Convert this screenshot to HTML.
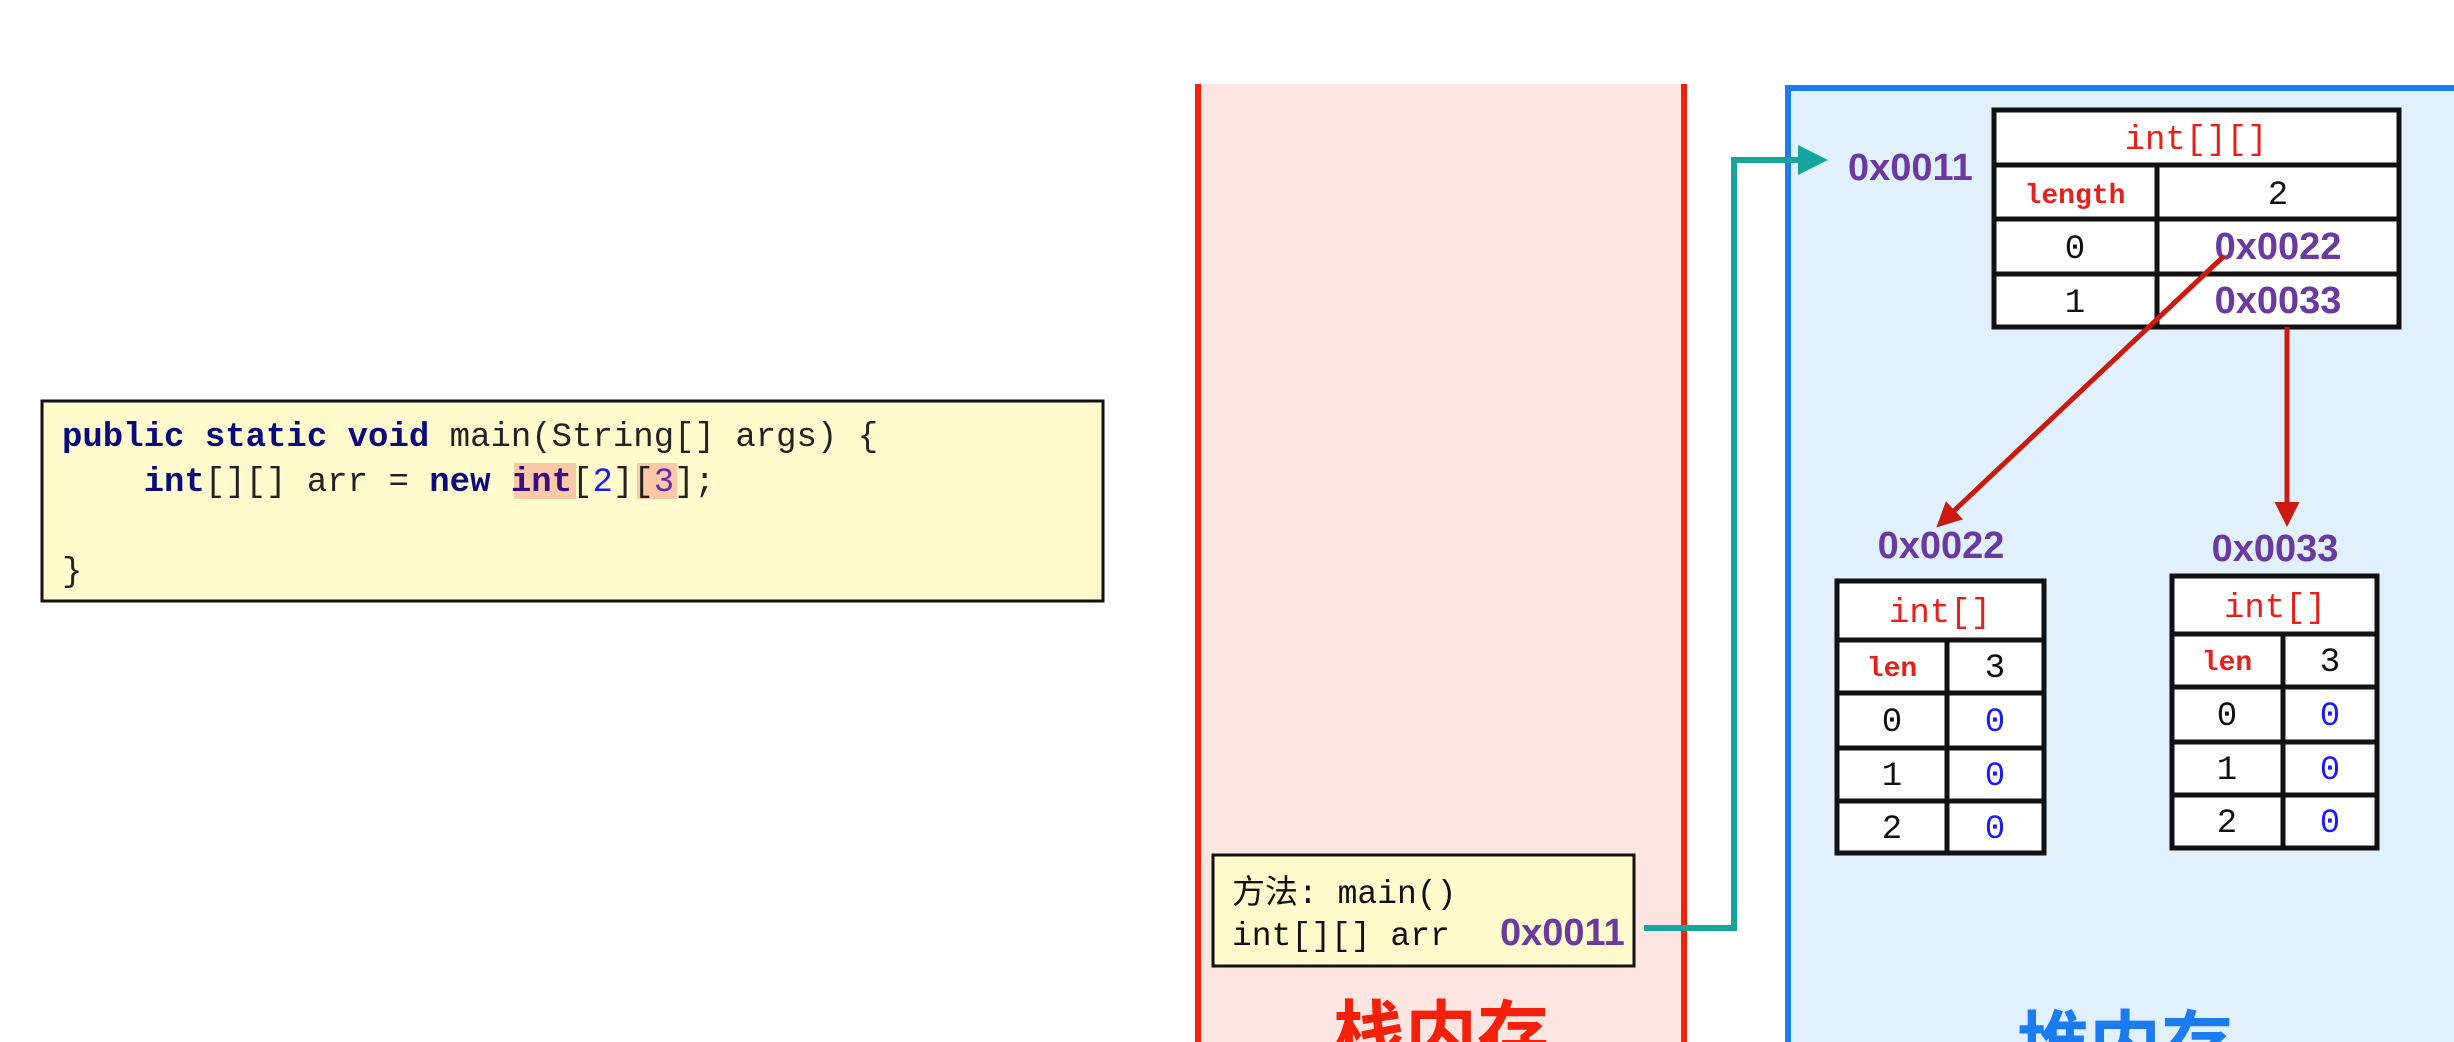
<!DOCTYPE html>
<html><head><meta charset="utf-8"><style>
html,body{margin:0;padding:0;background:#fff;width:2454px;height:1042px;overflow:hidden}
svg text{font-family:"Liberation Mono","Noto Sans CJK SC",monospace}
.b{font-family:"Liberation Sans","Noto Sans CJK SC",sans-serif;font-weight:bold}
</style></head><body>
<svg width="2454" height="1042" xmlns="http://www.w3.org/2000/svg">
<defs>
<marker id="ar" viewBox="0 0 10 10" refX="8" refY="5" markerWidth="5" markerHeight="5" orient="auto"><path d="M0,0L10,5L0,10z" fill="#cc1a10"/></marker>
<marker id="at" viewBox="0 0 10 10" refX="8" refY="5" markerWidth="5" markerHeight="5" orient="auto"><path d="M0,0L10,5L0,10z" fill="#15a59c"/></marker>
</defs>
<!-- code box -->
<rect x="42" y="401" width="1061" height="200" fill="#fffbcc" stroke="#111" stroke-width="3"/>
<rect x="514" y="463" width="62" height="36" fill="#f9c9a8"/>
<rect x="637" y="463" width="40" height="36" fill="#f9c9a8"/>
<text x="62" y="446" font-size="34" fill="#222"><tspan fill="#0a0a80" font-weight="bold">public static void</tspan> main(String[] args) {</text>
<text x="62" y="491" font-size="34" fill="#222" xml:space="preserve">    <tspan fill="#0a0a80" font-weight="bold">int</tspan>[][] arr = <tspan fill="#0a0a80" font-weight="bold">new</tspan> <tspan fill="#3a0a80" font-weight="bold">int</tspan>[<tspan fill="#1a1aff">2</tspan>][<tspan fill="#6a2ab0">3</tspan>];</text>
<text x="62" y="581" font-size="34" fill="#222">}</text>
<!-- stack -->
<rect x="1198" y="84" width="486" height="970" fill="#fde6e2"/>
<line x1="1198" y1="84" x2="1198" y2="1042" stroke="#f5200a" stroke-width="6"/>
<line x1="1684" y1="84" x2="1684" y2="1042" stroke="#f5200a" stroke-width="6"/>
<rect x="1213" y="855" width="421" height="111" fill="#fffbcc" stroke="#111" stroke-width="3"/>
<text x="1232" y="903" font-size="33" fill="#111">方法: main()</text>
<text x="1232" y="945" font-size="33" fill="#111">int[][] arr</text>
<text x="1500" y="945" font-size="38" fill="#6a3aa0" class="b">0x0011</text>
<text x="1441" y="1060" font-size="72" fill="#f5200a" class="b" text-anchor="middle">栈内存</text>
<!-- heap -->
<rect x="1788" y="88" width="680" height="970" fill="#e0f0fd" stroke="#1a7cf0" stroke-width="6"/>
<text x="2125" y="1070" font-size="72" fill="#1a7cf0" class="b" text-anchor="middle">堆内存</text>
<text x="1848" y="180" font-size="38" fill="#6a3aa0" class="b">0x0011</text>
<!-- main table -->
<g stroke="#111" stroke-width="5" fill="#fff">
<rect x="1994" y="110" width="405" height="217"/>
<line x1="1994" y1="165" x2="2399" y2="165"/>
<line x1="1994" y1="219" x2="2399" y2="219"/>
<line x1="1994" y1="274" x2="2399" y2="274"/>
<line x1="2157" y1="165" x2="2157" y2="327"/>
</g>
<text x="2196" y="149" font-size="34" fill="#e8201a" text-anchor="middle">int[][]</text>
<text x="2075" y="203" font-size="28" fill="#e8201a" font-weight="bold" text-anchor="middle">length</text>
<text x="2278" y="204" font-size="34" fill="#111" text-anchor="middle">2</text>
<text x="2075" y="258" font-size="34" fill="#111" text-anchor="middle">0</text>
<text x="2278" y="259" font-size="38" fill="#6a3aa0" class="b" text-anchor="middle">0x0022</text>
<text x="2075" y="312" font-size="34" fill="#111" text-anchor="middle">1</text>
<text x="2278" y="313" font-size="38" fill="#6a3aa0" class="b" text-anchor="middle">0x0033</text>
<!-- left small -->
<text x="1941" y="558" font-size="38" fill="#6a3aa0" class="b" text-anchor="middle">0x0022</text>
<g stroke="#111" stroke-width="5" fill="#fff">
<rect x="1837" y="581" width="207" height="272"/>
<line x1="1837" y1="640" x2="2044" y2="640"/><line x1="1837" y1="693" x2="2044" y2="693"/>
<line x1="1837" y1="748" x2="2044" y2="748"/><line x1="1837" y1="801" x2="2044" y2="801"/>
<line x1="1947" y1="640" x2="1947" y2="853"/>
</g>
<text x="1940" y="622" font-size="34" fill="#e8201a" text-anchor="middle">int[]</text>
<text x="1892" y="676" font-size="28" fill="#e8201a" font-weight="bold" text-anchor="middle">len</text>
<text x="1995" y="677" font-size="34" fill="#111" text-anchor="middle">3</text>
<text x="1892" y="731" font-size="34" fill="#111" text-anchor="middle">0</text><text x="1995" y="731" font-size="34" fill="#1a1aff" text-anchor="middle">0</text>
<text x="1892" y="785" font-size="34" fill="#111" text-anchor="middle">1</text><text x="1995" y="785" font-size="34" fill="#1a1aff" text-anchor="middle">0</text>
<text x="1892" y="838" font-size="34" fill="#111" text-anchor="middle">2</text><text x="1995" y="838" font-size="34" fill="#1a1aff" text-anchor="middle">0</text>
<!-- right small -->
<text x="2275" y="561" font-size="38" fill="#6a3aa0" class="b" text-anchor="middle">0x0033</text>
<g stroke="#111" stroke-width="5" fill="#fff">
<rect x="2172" y="576" width="205" height="272"/>
<line x1="2172" y1="634" x2="2377" y2="634"/><line x1="2172" y1="687" x2="2377" y2="687"/>
<line x1="2172" y1="742" x2="2377" y2="742"/><line x1="2172" y1="795" x2="2377" y2="795"/>
<line x1="2283" y1="634" x2="2283" y2="848"/>
</g>
<text x="2275" y="617" font-size="34" fill="#e8201a" text-anchor="middle">int[]</text>
<text x="2227" y="670" font-size="28" fill="#e8201a" font-weight="bold" text-anchor="middle">len</text>
<text x="2330" y="671" font-size="34" fill="#111" text-anchor="middle">3</text>
<text x="2227" y="725" font-size="34" fill="#111" text-anchor="middle">0</text><text x="2330" y="725" font-size="34" fill="#1a1aff" text-anchor="middle">0</text>
<text x="2227" y="779" font-size="34" fill="#111" text-anchor="middle">1</text><text x="2330" y="779" font-size="34" fill="#1a1aff" text-anchor="middle">0</text>
<text x="2227" y="832" font-size="34" fill="#111" text-anchor="middle">2</text><text x="2330" y="832" font-size="34" fill="#1a1aff" text-anchor="middle">0</text>
<!-- arrows -->
<polyline points="1644,928 1734,928 1734,160 1822,160" fill="none" stroke="#15a59c" stroke-width="6" marker-end="url(#at)"/>
<line x1="2224" y1="256" x2="1940" y2="524" stroke="#cc1a10" stroke-width="5" marker-end="url(#ar)"/>
<line x1="2287" y1="327" x2="2287" y2="522" stroke="#cc1a10" stroke-width="5" marker-end="url(#ar)"/>
</svg>
</body></html>
